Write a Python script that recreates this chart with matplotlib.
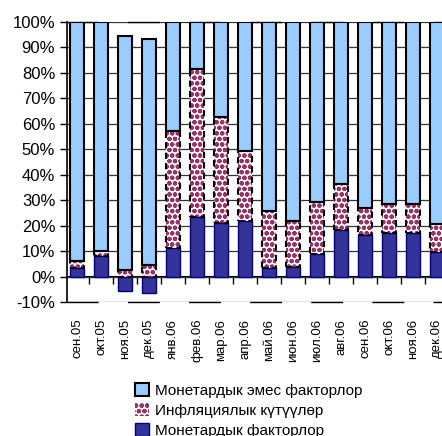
import numpy as np
import matplotlib.pyplot as plt
from matplotlib.patches import Patch

plt.rcParams['font.family'] = ['Liberation Sans Narrow', 'Liberation Sans', 'DejaVu Sans']
plt.rcParams['hatch.linewidth'] = 1.5

# --- данные (доля, %) ---
months = ['сен.05', 'окт.05', 'ноя.05', 'дек.05', 'янв.06', 'фев.06', 'мар.06', 'апр.06',
          'май.06', 'июн.06', 'июл.06', 'авг.06', 'сен.06', 'окт.06', 'ноя.06', 'дек.06']
monetary = np.array([3.5, 8.1, -5.6, -6.3, 11.1, 23.4, 21.0, 22.0,
                     3.3, 3.9, 8.7, 18.1, 16.4, 17.3, 17.3, 9.8])
inflation = np.array([2.8, 2.0, 2.4, 4.6, 46.2, 58.0, 41.8, 27.2,
                      22.3, 17.8, 20.6, 18.3, 10.5, 11.3, 11.3, 10.9])
non_monetary = np.array([93.7, 89.9, 92.2, 88.7, 42.7, 18.6, 37.2, 50.8,
                         74.4, 78.3, 70.7, 63.6, 73.1, 71.4, 71.4, 79.3])
yticks = np.arange(-10, 101, 10)

c_mon = '#333399'
c_inf = '#993366'
c_non = '#99CCFF'

fig = plt.figure(figsize=(4.42, 4.36), dpi=100)
ax = fig.add_axes([67 / 442, 134 / 436, 382 / 442, 280 / 436])

x = np.arange(len(months))
w = 0.6
base_inf = np.maximum(monetary, 0)
base_non = base_inf + inflation

ax.bar(x, monetary, w, color=c_mon, edgecolor='#000080', linewidth=1, zorder=3)
# штриховка ожиданий (цвет штриховки = edgecolor)
ax.bar(x, inflation, w, bottom=base_inf, color='white', edgecolor=c_inf,
       linewidth=0, hatch='ooo', zorder=3)
ax.bar(x, inflation, w, bottom=base_inf, fill=False, edgecolor='black',
       linewidth=1.5, linestyle=(0, (3, 2)), zorder=3.1)
ax.bar(x, non_monetary, w, bottom=base_non, color=c_non, edgecolor='black',
       linewidth=1.5, zorder=3)

ax.set_xlim(-0.42, len(months) - 0.5)
ax.set_ylim(-10, 100)
ax.set_yticks(yticks)
ax.set_yticklabels([f'{v}%' for v in yticks], fontsize=12)
ax.tick_params(axis='y', direction='out', length=5, width=1)
ax.set_xticks(x)
ax.set_xticklabels(months, rotation=90, fontsize=9.5, va='top')
ax.tick_params(axis='x', length=0, pad=12)

ax.grid(axis='y', color='#333333', linewidth=0.9, zorder=0)
ax.set_axisbelow(True)

ax.spines['right'].set_visible(False)
for s in ('top', 'bottom'):
    ax.spines[s].set_linestyle((0, (22, 22)))
    ax.spines[s].set_linewidth(1)
ax.spines['left'].set_linewidth(1.2)

# ось на уровне 0% с делениями между категориями
sec = ax.secondary_xaxis(10 / 110)
sec.set_xticks(np.arange(len(months) + 1) - 0.5)
sec.set_xticklabels([])
sec.tick_params(direction='out', length=5, width=1)
sec.spines['bottom'].set_linewidth(1.5)

handles = [
    Patch(facecolor=c_non, edgecolor='black', linewidth=1.5),
    Patch(facecolor='white', edgecolor=c_inf, hatch='ooo', linewidth=0),
    Patch(facecolor=c_mon, edgecolor='#000080', linewidth=1),
]
labels = ['Монетардык эмес факторлор', 'Инфляциялык күтүүлөр', 'Монетардык факторлор']
fig.legend(handles, labels, loc='upper left', bbox_to_anchor=(129 / 442, 1 - 377 / 436),
           frameon=False, fontsize=11, handlelength=0.9, handleheight=0.9,
           handletextpad=0.4, labelspacing=0.35, borderaxespad=0)

fig.savefig('out.png', dpi=100)
